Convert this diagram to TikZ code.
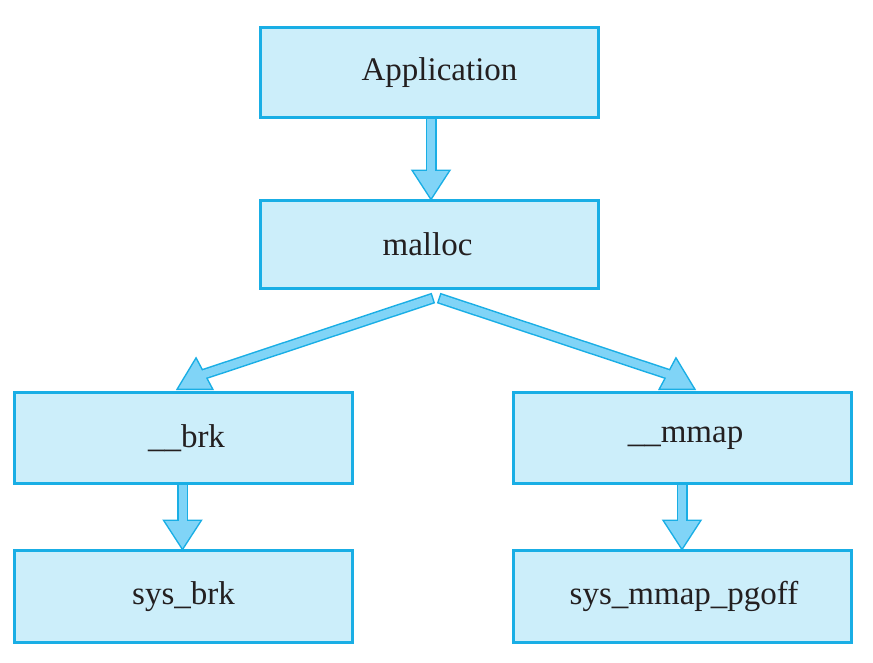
\documentclass[tikz,border=0pt]{standalone}
\usepackage{fontspec}
\setmainfont{Liberation Serif}
\usetikzlibrary{calc}
\pgfdeclarelayer{bg}
\pgfsetlayers{bg,main}
\definecolor{boxfill}{HTML}{CCEEFA}
\definecolor{boxline}{HTML}{19AEE5}
\definecolor{arrfill}{HTML}{80D4F7}
\definecolor{txt}{HTML}{231F20}
% fat arrow: #1 start, #2 shaft end, #3 #4 #5 head vertices
\newcommand{\fatarr}[5]{%
  \draw[arrline, line width=11pt, shorten <=-1.5pt] (#1) -- (#2);
  \draw[arrline, line width=3pt] (#3) -- (#4) -- (#5) -- cycle;
  \draw[arrbody, line width=8pt] (#1) -- (#2);
  \fill[arrfill] (#3) -- (#4) -- (#5) -- cycle;
}
\begin{document}
\begin{tikzpicture}[x=1pt,y=-1pt,
  fbox/.style={draw=boxline, fill=boxfill, line width=3pt, minimum width=338pt,
    inner sep=0pt, text=txt, font=\fontsize{33}{40}\selectfont},
  arrline/.style={draw=boxline, line join=miter},
  arrbody/.style={draw=arrfill}]
\useasboundingbox (0,0) rectangle (873,662);
\node[fbox, minimum height=90pt] (app) at (429.5,72.5) {\hspace*{20pt}Application};
\node[fbox, minimum height=88pt] (malloc) at (429.5,244.5) {\hspace*{-4pt}malloc};
\node[fbox, minimum height=91pt] (brk) at (183.5,438) {\hspace*{6pt}\_\_brk};
\node[fbox, minimum height=91pt] (mmap) at (682.5,438) {\hspace*{6pt}\_\_mmap};
\node[fbox, minimum height=92pt] (sysbrk) at (183.5,596.5) {sys\_brk};
\node[fbox, minimum height=92pt] (sysmmap) at (682.5,596.5) {\hspace*{3pt}sys\_mmap\_pgoff};
% arrow anchor points
\coordinate (a1s) at ($(app.south)+(1.5,0)$);
\coordinate (a1t) at ($(malloc.north)+(1.5,-1)$);
\coordinate (a2s) at ($(malloc.south)+(2.5,8.5)$);
\coordinate (a3s) at ($(malloc.south)+(10.5,8.5)$);
\coordinate (a4s) at ($(brk.south)+(-1,0)$);
\coordinate (a4t) at ($(sysbrk.north)+(-1,-1)$);
\coordinate (a5s) at ($(mmap.south)+(-0.5,0)$);
\coordinate (a5t) at ($(sysmmap.north)+(-0.5,-1)$);
\begin{pgfonlayer}{bg}
  \fatarr{a1s}{$(a1t)+(0,-25)$}{$(a1t)+(-17.5,-27)$}{$(a1t)+(17.5,-27)$}{a1t}
  \fatarr{a4s}{$(a4t)+(0,-25)$}{$(a4t)+(-17.5,-27)$}{$(a4t)+(17.5,-27)$}{a4t}
  \fatarr{a5s}{$(a5t)+(0,-25)$}{$(a5t)+(-17.5,-27)$}{$(a5t)+(17.5,-27)$}{a5t}
  \fatarr{a2s}{$(brk.north)+(16.5,-15.5)$}{$(brk.north)+(-5,-2.5)$}{$(brk.north)+(28,-2.5)$}{$(brk.north)+(12.5,-31.5)$}
  \fatarr{a3s}{$(mmap.north)+(-10.5,-15.5)$}{$(mmap.north)+(11,-2.5)$}{$(mmap.north)+(-22,-2.5)$}{$(mmap.north)+(-6.5,-31.5)$}
\end{pgfonlayer}
\end{tikzpicture}
\end{document}
